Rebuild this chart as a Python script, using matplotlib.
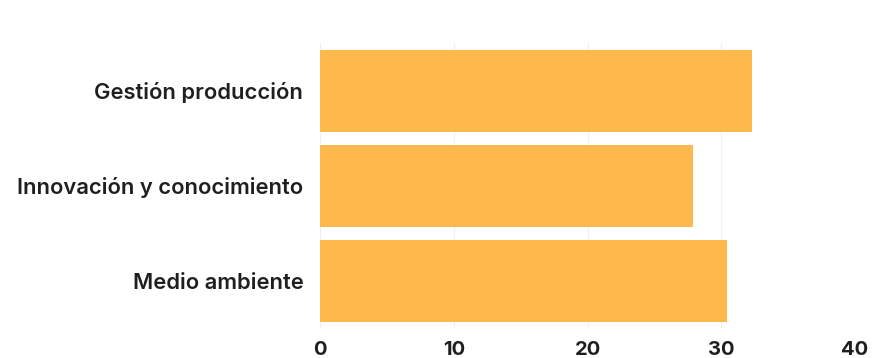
import matplotlib
matplotlib.use("Agg")
import matplotlib.pyplot as plt

# Data
categories = ["Gestión producción", "Innovación y conocimiento", "Medio ambiente"]
values = [32.3, 27.9, 30.4]
x_ticks = [0, 10, 20, 30, 40]

BAR_COLOR = "#FDB94B"
TEXT_COLOR = "#1f1f1f"

plt.rcParams["font.family"] = ["Inter", "DejaVu Sans"]

fig = plt.figure(figsize=(8.72, 3.58), dpi=100)
ax = fig.add_axes([0.367, 0.082, 0.6135, 0.797])

y_pos = list(range(len(categories)))
ax.barh(y_pos, values, height=0.86, color=BAR_COLOR, zorder=2)

ax.set_xlim(0, 40)
ax.set_ylim(len(categories) - 0.5, -0.5)
ax.set_xticks(x_ticks)
ax.set_yticks(y_pos)
ax.set_yticklabels(categories)

# faint vertical grid
ax.grid(axis="x", color="#f0f0f0", linewidth=0.8, zorder=0)
ax.set_axisbelow(True)

for side in ["top", "right", "bottom", "left"]:
    ax.spines[side].set_visible(False)

ax.tick_params(axis="both", length=0, colors=TEXT_COLOR)
ax.tick_params(axis="y", pad=12)
ax.tick_params(axis="x", pad=9)
for lbl in ax.get_yticklabels():
    lbl.set_fontsize(15.8)
    lbl.set_fontweight("semibold")
for lbl in ax.get_xticklabels():
    lbl.set_fontsize(14.5)
    lbl.set_fontweight("bold")

fig.savefig("out.png", dpi=100)
